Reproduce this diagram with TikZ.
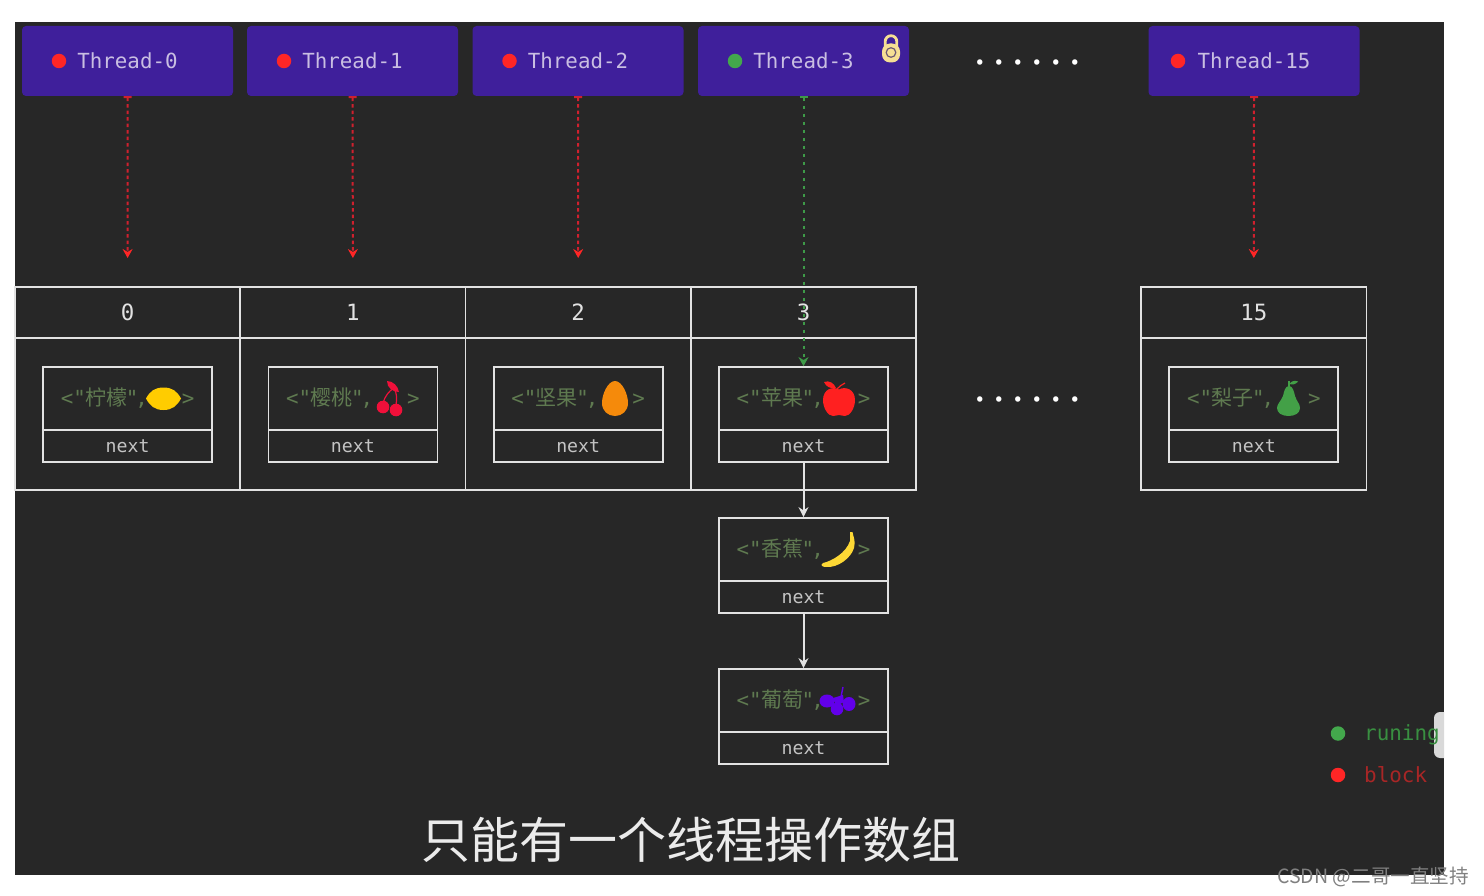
\documentclass[tikz,border=0pt]{standalone}
\usepackage{fontspec}
\usetikzlibrary{arrows.meta}
\newfontfamily\monof{DejaVu Sans Mono}
\newfontfamily\cjkf{Noto Sans CJK SC}
\newfontfamily\dotf{Poppins}
\definecolor{bgdark}{HTML}{272727}
\definecolor{threadfill}{HTML}{3F1F9B}
\definecolor{threadtxt}{HTML}{C9BEE2}
\definecolor{dotred}{HTML}{FF2626}
\definecolor{dotgreen}{HTML}{43A84C}
\definecolor{arrred}{HTML}{D0202E}
\definecolor{arrgreen}{HTML}{3E9A48}
\definecolor{linew}{HTML}{E2E2E2}
\definecolor{valgreen}{HTML}{5F7A50}
\definecolor{nexttxt}{HTML}{C4C4C4}
\definecolor{lockc}{HTML}{F6DE94}
\definecolor{tabc}{HTML}{D9D9D9}
\definecolor{blocktxt}{HTML}{A82626}
\newcommand\fm[1]{\fontsize{#1}{#1}\selectfont}
\newcommand\valtext[1]{\raisebox{-0.5pt}{{\monof\fm{20.8}<"}\hspace{-0.5pt}{\cjkf\fm{21}#1}\hspace{-1.5pt}{\monof\fm{20.8}"\hspace{-3pt},\hspace{34pt}>}}}
\newcommand\dotcell{\makebox[19pt]{·}}
\newcommand\dotrun{\dotcell\dotcell\dotcell\dotcell\dotcell\dotcell}
\tikzset{
  threadbox/.style={rectangle,rounded corners=4pt,fill=threadfill,minimum width=211pt,minimum height=70pt,inner sep=0pt,text=threadtxt,font=\monof\fm{20.8}},
  statedot/.style={circle,minimum size=14.5pt,inner sep=0pt},
  indexcell/.style={rectangle,draw=linew,line width=1.8pt,minimum width=225.3pt,minimum height=51pt,inner sep=0pt,text=linew,font=\monof\fm{22.4}},
  bodycell/.style={rectangle,draw=linew,line width=1.8pt,minimum width=225.3pt,minimum height=152pt,inner sep=0pt},
  valcell/.style={rectangle,draw=linew,line width=1.8pt,minimum width=169pt,minimum height=63pt,inner sep=0pt,text=valgreen},
  nextcell/.style={rectangle,draw=linew,line width=1.8pt,minimum width=169pt,minimum height=32pt,inner sep=0pt,text=nexttxt,font=\monof\fm{18.2}},
  redflow/.style={draw=arrred,line width=2pt,dash pattern=on 3.5pt off 3pt,{Bar[width=8pt,line width=2pt]}-{Stealth[length=9pt,width=10pt,color=dotred]}},
  greenflow/.style={draw=arrgreen,line width=2pt,dash pattern=on 3.5pt off 4.5pt,{Bar[width=8pt,line width=2pt]}-{Stealth[length=9pt,width=10pt]}},
  chainarrow/.style={draw=linew,line width=2pt,-{Stealth[length=10pt,width=10pt]}},
  ellipsisrun/.style={inner sep=0pt,text=white,font=\dotf\fm{44}},
}
\begin{document}
\begin{tikzpicture}[x=1pt,y=-1pt]
\useasboundingbox (0,0) rectangle (1484,896);
\fill[white] (0,0) rectangle (1484,896);
\fill[bgdark] (15,22) rectangle (1444,875);

% thread boxes
\node[threadbox] (t0) at (127.5,61) {Thread-0};
\node[threadbox] (t1) at (352.5,61) {Thread-1};
\node[threadbox] (t2) at (578,61) {Thread-2};
\node[threadbox] (t3) at (803.5,61) {Thread-3};
\node[threadbox] (t15) at (1254,61) {Thread-15};
\node[statedot,fill=dotred] (d0) at (59,61) {};
\node[statedot,fill=dotred] (d1) at (284,61) {};
\node[statedot,fill=dotred] (d2) at (509.5,61) {};
\node[statedot,fill=dotgreen] (d3) at (735,61) {};
\node[statedot,fill=dotred] (d15) at (1178,61) {};

% lock
\draw[lockc,line width=2.8pt] (885.2,47) -- (885.2,41.5) arc[start angle=180,end angle=360,radius=5.8] -- (896.8,47);
\fill[lockc,rounded corners=8pt] (882,43.5) rectangle (900,62.5);
\draw[threadfill!55!lockc!75!black,line width=1.2pt] (891,52.5) circle[radius=4.8];

% array
\foreach \n/\x in {0/127.6,1/352.9,2/578.2,3/803.5,15/1253.8}{
  \node[indexcell] (h\n) at (\x,312.5) {\raisebox{-1pt}{\n}};
  \node[bodycell] (b\n) at (\x,414) {};
}
% entries
\newcommand\entry[4]{%
  \node[valcell] (#1v) at (#2,#3) {\valtext{#4}};
  \node[nextcell] (#1n) at (#2,#3+47.5) {next};
}
\entry{lemon}{127.6}{398.5}{柠檬}
\entry{cherry}{352.9}{398.5}{樱桃}
\entry{nut}{578.2}{398.5}{坚果}
\entry{apple}{803.5}{398.5}{苹果}
\entry{pear}{1253.8}{398.5}{梨子}
\entry{banana}{803.5}{549.5}{香蕉}
\entry{grape}{803.5}{700.5}{葡萄}

% fruits
\definecolor{lemonc}{HTML}{FFCC00}
\fill[lemonc] (146,398.5) .. controls (150,391) and (155,387.5) .. (163.5,387.5) .. controls (172,387.5) and (177,391) .. (181,398.5) .. controls (177,406) and (172,410) .. (163.5,410) .. controls (155,410) and (150,406) .. (146,398.5) -- cycle;
\definecolor{cherryc}{HTML}{F0103A}
\fill[cherryc] (383,407) circle[radius=6.3];
\fill[cherryc] (396,410) circle[radius=6.3];
\draw[cherryc,line width=1.2pt] (383,403) .. controls (385,396) and (389,391) .. (394,388) .. controls (397,393) and (397,399) .. (396,405);
\fill[cherryc] (387,381) .. controls (393,381) and (398,386) .. (399,392) .. controls (393,392) and (387,388) .. (387,381) -- cycle;
\definecolor{applec}{HTML}{FF2020}
\fill[applec] (839,389.5) .. controls (845,386) and (855,389) .. (855,400) .. controls (855,408) and (850,416) .. (845,416) .. controls (842,416) and (841,415) .. (839,415) .. controls (837,415) and (836,416) .. (833,416) .. controls (828,416) and (823,408) .. (823,400) .. controls (823,389) and (833,386) .. (839,389.5) -- cycle;
\fill[applec] (824,382) .. controls (829,380) and (834,383) .. (836,388) .. controls (831,389) and (826,387) .. (824,382) -- cycle;
\draw[applec,line width=1.2pt] (837,389) .. controls (839,386) and (842,385) .. (845,383);
\definecolor{orangec}{HTML}{F58A0B}
\fill[orangec] (615,381) .. controls (622,381) and (628,394) .. (628,403) .. controls (628,411) and (622,416) .. (615,416) .. controls (608,416) and (602,411) .. (602,403) .. controls (602,394) and (608,381) .. (615,381) -- cycle;
\definecolor{bananac}{HTML}{FDD835}
\fill[bananac] (850,532) -- (852.5,532) .. controls (853,536) and (856,541) .. (854,548) .. controls (851,558) and (838,568) .. (826,567) .. controls (822,567) and (820,565) .. (823,563) .. controls (832,561) and (846,553) .. (850,541) -- cycle;
\definecolor{grapec}{HTML}{6200EA}
\fill[grapec] (827,701) circle[x radius=7.5,y radius=6.5];
\fill[grapec] (837,709) circle[radius=6.3];
\fill[grapec] (849,704) circle[x radius=6.5,y radius=7];
\fill[grapec] (833,698) -- (843,695) -- (844,702) -- (836,706) -- cycle;
\draw[grapec,line width=1.4pt] (843,687) -- (840,702);
\definecolor{pearc}{HTML}{43A047}
\fill[pearc] (1289,386) .. controls (1293,386) and (1294,392) .. (1295,396) .. controls (1297,402) and (1300,404) .. (1300,408) .. controls (1300,413) and (1295,416) .. (1288.5,416) .. controls (1282,416) and (1277,413) .. (1277,408) .. controls (1277,404) and (1281,401) .. (1283,396) .. controls (1284,392) and (1285,386) .. (1289,386) -- cycle;
\fill[pearc] (1289.5,384) .. controls (1291,381) and (1295,380) .. (1298,381.5) .. controls (1296,384.5) and (1292,385) .. (1289.5,384) -- cycle;
\draw[pearc,line width=1.2pt] (1289,387) -- (1289,381);

% free ends of flows
\coordinate (e0) at (127.6,258);
\coordinate (e1) at (352.9,258);
\coordinate (e2) at (578.2,258);
\coordinate (e15) at (1253.8,258);
\draw[redflow] (t0.south) -- (e0);
\draw[redflow] (t1.south) -- (e1);
\draw[redflow] (t2.south) -- (e2);
\draw[redflow] (t15.south) -- (e15);
\draw[greenflow] (t3.south) -- (applev.north);
\draw[chainarrow] (applen.south) -- (bananav.north);
\draw[chainarrow] (bananan.south) -- (grapev.north);

% ellipsis
\node[ellipsisrun] (dots1) at (1028,69) {\dotrun};
\node[ellipsisrun] (dots2) at (1028,406) {\dotrun};

% legend
\node[statedot,fill=dotgreen] (lg) at (1338,733.5) {};
\node[statedot,fill=dotred] (lr) at (1338,775) {};
\fill[tabc] (1444,712) [rounded corners=6pt] -- (1434,712) -- (1434,758) [sharp corners] -- (1444,758) -- cycle;
\node[anchor=west,inner sep=0pt,text=dotgreen!85!black,font=\monof\fm{20.9}] (lgt) at (1364,734.5) {runing};
\node[anchor=west,inner sep=0pt,text=blocktxt,font=\monof\fm{20.9}] (lrt) at (1364,775) {block};

% caption
\node[text=white!92!black,font=\cjkf\fm{49}] (cap) at (691,840) {只能有一个线程操作数组};
% watermark
\node[anchor=west,inner sep=0pt,text=gray,font=\cjkf\fm{19.6}] (wm) at (1277,877) {CSDN @二哥一直坚持};
\end{tikzpicture}
\end{document}
